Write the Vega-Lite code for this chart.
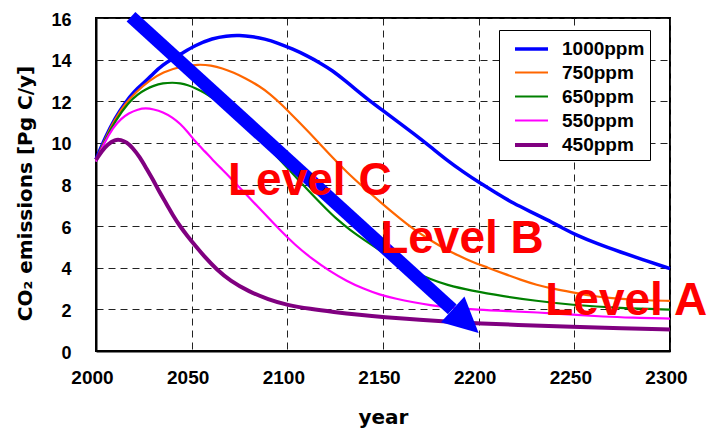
{
  "$schema": "https://vega.github.io/schema/vega-lite/v6.json",
  "width": 574,
  "height": 333,
  "autosize": "none",
  "padding": {"left": 96, "top": 18, "right": 43, "bottom": 77},
  "background": "white",
  "datasets": {
    "curves": [
      {"s": "1000ppm", "year": 2000, "v": 9.2}, {"s": "1000ppm", "year": 2005, "v": 10.3}, {"s": "1000ppm", "year": 2010, "v": 11.2}, {"s": "1000ppm", "year": 2015, "v": 11.9}, {"s": "1000ppm", "year": 2020, "v": 12.5}, {"s": "1000ppm", "year": 2026, "v": 12.95}, {"s": "1000ppm", "year": 2030, "v": 13.35}, {"s": "1000ppm", "year": 2035, "v": 13.75}, {"s": "1000ppm", "year": 2040, "v": 14.05}, {"s": "1000ppm", "year": 2044, "v": 14.25}, {"s": "1000ppm", "year": 2052, "v": 14.7}, {"s": "1000ppm", "year": 2061, "v": 15.03}, {"s": "1000ppm", "year": 2068, "v": 15.14}, {"s": "1000ppm", "year": 2075, "v": 15.17}, {"s": "1000ppm", "year": 2082, "v": 15.1}, {"s": "1000ppm", "year": 2088, "v": 15.0}, {"s": "1000ppm", "year": 2095, "v": 14.8}, {"s": "1000ppm", "year": 2103, "v": 14.5}, {"s": "1000ppm", "year": 2110, "v": 14.2}, {"s": "1000ppm", "year": 2117, "v": 13.85}, {"s": "1000ppm", "year": 2124, "v": 13.45}, {"s": "1000ppm", "year": 2130, "v": 13.0}, {"s": "1000ppm", "year": 2136, "v": 12.55}, {"s": "1000ppm", "year": 2142, "v": 12.1}, {"s": "1000ppm", "year": 2150, "v": 11.55}, {"s": "1000ppm", "year": 2158, "v": 11.0}, {"s": "1000ppm", "year": 2166, "v": 10.45}, {"s": "1000ppm", "year": 2175, "v": 9.8}, {"s": "1000ppm", "year": 2183, "v": 9.2}, {"s": "1000ppm", "year": 2192, "v": 8.6}, {"s": "1000ppm", "year": 2201, "v": 8.05}, {"s": "1000ppm", "year": 2210, "v": 7.55}, {"s": "1000ppm", "year": 2218, "v": 7.1}, {"s": "1000ppm", "year": 2227, "v": 6.7}, {"s": "1000ppm", "year": 2236, "v": 6.3}, {"s": "1000ppm", "year": 2244, "v": 5.9}, {"s": "1000ppm", "year": 2251, "v": 5.57}, {"s": "1000ppm", "year": 2262, "v": 5.15}, {"s": "1000ppm", "year": 2274, "v": 4.76}, {"s": "1000ppm", "year": 2287, "v": 4.35}, {"s": "1000ppm", "year": 2300, "v": 3.96},
      {"s": "750ppm", "year": 2000, "v": 9.15}, {"s": "750ppm", "year": 2005, "v": 10.25}, {"s": "750ppm", "year": 2010, "v": 11.15}, {"s": "750ppm", "year": 2015, "v": 11.85}, {"s": "750ppm", "year": 2021, "v": 12.45}, {"s": "750ppm", "year": 2028, "v": 13.0}, {"s": "750ppm", "year": 2035, "v": 13.4}, {"s": "750ppm", "year": 2044, "v": 13.67}, {"s": "750ppm", "year": 2054, "v": 13.78}, {"s": "750ppm", "year": 2060, "v": 13.72}, {"s": "750ppm", "year": 2066, "v": 13.59}, {"s": "750ppm", "year": 2072, "v": 13.38}, {"s": "750ppm", "year": 2078, "v": 13.11}, {"s": "750ppm", "year": 2085, "v": 12.75}, {"s": "750ppm", "year": 2091, "v": 12.35}, {"s": "750ppm", "year": 2097, "v": 11.85}, {"s": "750ppm", "year": 2105, "v": 11.1}, {"s": "750ppm", "year": 2114, "v": 10.25}, {"s": "750ppm", "year": 2122, "v": 9.45}, {"s": "750ppm", "year": 2131, "v": 8.6}, {"s": "750ppm", "year": 2140, "v": 7.85}, {"s": "750ppm", "year": 2148, "v": 7.2}, {"s": "750ppm", "year": 2159, "v": 6.35}, {"s": "750ppm", "year": 2166, "v": 5.85}, {"s": "750ppm", "year": 2175, "v": 5.3}, {"s": "750ppm", "year": 2183, "v": 4.88}, {"s": "750ppm", "year": 2189, "v": 4.6}, {"s": "750ppm", "year": 2196, "v": 4.3}, {"s": "750ppm", "year": 2205, "v": 4.0}, {"s": "750ppm", "year": 2213, "v": 3.72}, {"s": "750ppm", "year": 2222, "v": 3.42}, {"s": "750ppm", "year": 2230, "v": 3.18}, {"s": "750ppm", "year": 2240, "v": 2.97}, {"s": "750ppm", "year": 2248, "v": 2.83}, {"s": "750ppm", "year": 2258, "v": 2.66}, {"s": "750ppm", "year": 2269, "v": 2.53}, {"s": "750ppm", "year": 2285, "v": 2.44}, {"s": "750ppm", "year": 2300, "v": 2.41},
      {"s": "650ppm", "year": 2000, "v": 9.1}, {"s": "650ppm", "year": 2005, "v": 10.2}, {"s": "650ppm", "year": 2010, "v": 11.05}, {"s": "650ppm", "year": 2017, "v": 11.95}, {"s": "650ppm", "year": 2022, "v": 12.35}, {"s": "650ppm", "year": 2026, "v": 12.57}, {"s": "650ppm", "year": 2030, "v": 12.75}, {"s": "650ppm", "year": 2035, "v": 12.87}, {"s": "650ppm", "year": 2040, "v": 12.9}, {"s": "650ppm", "year": 2044, "v": 12.87}, {"s": "650ppm", "year": 2048, "v": 12.78}, {"s": "650ppm", "year": 2052, "v": 12.63}, {"s": "650ppm", "year": 2057, "v": 12.4}, {"s": "650ppm", "year": 2061, "v": 12.15}, {"s": "650ppm", "year": 2066, "v": 11.82}, {"s": "650ppm", "year": 2070, "v": 11.5}, {"s": "650ppm", "year": 2075, "v": 11.1}, {"s": "650ppm", "year": 2080, "v": 10.68}, {"s": "650ppm", "year": 2088, "v": 9.98}, {"s": "650ppm", "year": 2096, "v": 9.2}, {"s": "650ppm", "year": 2105, "v": 8.3}, {"s": "650ppm", "year": 2114, "v": 7.42}, {"s": "650ppm", "year": 2120, "v": 6.86}, {"s": "650ppm", "year": 2126, "v": 6.32}, {"s": "650ppm", "year": 2133, "v": 5.8}, {"s": "650ppm", "year": 2140, "v": 5.35}, {"s": "650ppm", "year": 2148, "v": 4.86}, {"s": "650ppm", "year": 2157, "v": 4.3}, {"s": "650ppm", "year": 2166, "v": 3.8}, {"s": "650ppm", "year": 2175, "v": 3.44}, {"s": "650ppm", "year": 2183, "v": 3.18}, {"s": "650ppm", "year": 2196, "v": 2.9}, {"s": "650ppm", "year": 2213, "v": 2.63}, {"s": "650ppm", "year": 2230, "v": 2.41}, {"s": "650ppm", "year": 2248, "v": 2.22}, {"s": "650ppm", "year": 2274, "v": 2.05}, {"s": "650ppm", "year": 2300, "v": 1.99},
      {"s": "550ppm", "year": 2000, "v": 9.1}, {"s": "550ppm", "year": 2004, "v": 9.95}, {"s": "550ppm", "year": 2009, "v": 10.75}, {"s": "550ppm", "year": 2013, "v": 11.15}, {"s": "550ppm", "year": 2017, "v": 11.42}, {"s": "550ppm", "year": 2022, "v": 11.62}, {"s": "550ppm", "year": 2026, "v": 11.67}, {"s": "550ppm", "year": 2030, "v": 11.62}, {"s": "550ppm", "year": 2035, "v": 11.48}, {"s": "550ppm", "year": 2040, "v": 11.22}, {"s": "550ppm", "year": 2044, "v": 10.92}, {"s": "550ppm", "year": 2048, "v": 10.52}, {"s": "550ppm", "year": 2052, "v": 10.05}, {"s": "550ppm", "year": 2057, "v": 9.58}, {"s": "550ppm", "year": 2061, "v": 9.18}, {"s": "550ppm", "year": 2066, "v": 8.72}, {"s": "550ppm", "year": 2070, "v": 8.35}, {"s": "550ppm", "year": 2078, "v": 7.57}, {"s": "550ppm", "year": 2087, "v": 6.7}, {"s": "550ppm", "year": 2096, "v": 5.82}, {"s": "550ppm", "year": 2104, "v": 5.1}, {"s": "550ppm", "year": 2113, "v": 4.42}, {"s": "550ppm", "year": 2122, "v": 3.85}, {"s": "550ppm", "year": 2131, "v": 3.36}, {"s": "550ppm", "year": 2140, "v": 2.98}, {"s": "550ppm", "year": 2148, "v": 2.71}, {"s": "550ppm", "year": 2157, "v": 2.5}, {"s": "550ppm", "year": 2166, "v": 2.34}, {"s": "550ppm", "year": 2175, "v": 2.2}, {"s": "550ppm", "year": 2183, "v": 2.1}, {"s": "550ppm", "year": 2200, "v": 1.98}, {"s": "550ppm", "year": 2215, "v": 1.92}, {"s": "550ppm", "year": 2230, "v": 1.86}, {"s": "550ppm", "year": 2250, "v": 1.74}, {"s": "550ppm", "year": 2265, "v": 1.65}, {"s": "550ppm", "year": 2280, "v": 1.6}, {"s": "550ppm", "year": 2300, "v": 1.56},
      {"s": "450ppm", "year": 2000, "v": 9.18}, {"s": "450ppm", "year": 2003, "v": 9.6}, {"s": "450ppm", "year": 2006, "v": 9.92}, {"s": "450ppm", "year": 2010, "v": 10.17}, {"s": "450ppm", "year": 2013, "v": 10.15}, {"s": "450ppm", "year": 2016, "v": 10.03}, {"s": "450ppm", "year": 2019, "v": 9.78}, {"s": "450ppm", "year": 2023, "v": 9.3}, {"s": "450ppm", "year": 2026, "v": 8.82}, {"s": "450ppm", "year": 2030, "v": 8.2}, {"s": "450ppm", "year": 2033, "v": 7.66}, {"s": "450ppm", "year": 2037, "v": 7.05}, {"s": "450ppm", "year": 2040, "v": 6.55}, {"s": "450ppm", "year": 2044, "v": 5.98}, {"s": "450ppm", "year": 2048, "v": 5.5}, {"s": "450ppm", "year": 2052, "v": 5.05}, {"s": "450ppm", "year": 2057, "v": 4.5}, {"s": "450ppm", "year": 2063, "v": 3.92}, {"s": "450ppm", "year": 2070, "v": 3.38}, {"s": "450ppm", "year": 2080, "v": 2.85}, {"s": "450ppm", "year": 2090, "v": 2.48}, {"s": "450ppm", "year": 2100, "v": 2.2}, {"s": "450ppm", "year": 2112, "v": 2.02}, {"s": "450ppm", "year": 2124, "v": 1.88}, {"s": "450ppm", "year": 2138, "v": 1.73}, {"s": "450ppm", "year": 2150, "v": 1.63}, {"s": "450ppm", "year": 2170, "v": 1.5}, {"s": "450ppm", "year": 2185, "v": 1.4}, {"s": "450ppm", "year": 2200, "v": 1.32}, {"s": "450ppm", "year": 2225, "v": 1.24}, {"s": "450ppm", "year": 2248, "v": 1.16}, {"s": "450ppm", "year": 2275, "v": 1.09}, {"s": "450ppm", "year": 2300, "v": 1.03}
    ],
    "arrow": [{"year": 2018.3, "v": 16.06, "year2": 2186.2, "v2": 2.0}],
    "head": [{"year": 2193.2, "v": 1.434}],
    "labels": [
      {"t": "Level C", "year": 2069.0, "v": 7.49},
      {"t": "Level B", "year": 2148.5, "v": 4.69},
      {"t": "Level A", "year": 2234.8, "v": 1.72}
    ]
  },
  "layer": [
    {
      "data": {"name": "curves"},
      "mark": {"type": "line", "interpolate": "basis"},
      "encoding": {
        "x": {"field": "year", "type": "quantitative", "scale": {"domain": [2000, 2300], "nice": false},
          "axis": {"values": [2000, 2050, 2100, 2150, 2200, 2250, 2300], "format": "d", "title": "year", "labelFontSize": 19, "labelPadding": 17, "labelOffset": -4, "labelFlush": false, "titleY": 72, "titleBaseline": "alphabetic"}},
        "y": {"field": "v", "type": "quantitative", "scale": {"domain": [0, 16], "nice": false},
          "axis": {"values": [0, 2, 4, 6, 8, 10, 12, 14, 16], "title": "CO₂ emissions [Pg C/y]", "labelFontSize": 18, "labelPadding": 25, "labelOffset": 2, "labelFlush": false, "titleX": -65, "titleY": 175, "titleBaseline": "alphabetic", "titleAngle": -90}},
        "color": {"field": "s", "type": "nominal",
          "scale": {"domain": ["1000ppm", "750ppm", "650ppm", "550ppm", "450ppm"], "range": ["#0000FF", "#FF6600", "#008000", "#FF00FF", "#800080"]},
          "legend": {"title": null}},
        "strokeWidth": {"field": "s", "type": "nominal",
          "scale": {"type": "ordinal", "domain": ["1000ppm", "750ppm", "650ppm", "550ppm", "450ppm"], "range": [3.5, 2.2, 2.2, 2.2, 4]},
          "legend": {"title": null}}
      }
    },
    {
      "data": {"name": "arrow"},
      "mark": {"type": "rule", "color": "#0000FF", "strokeWidth": 13, "strokeCap": "butt"},
      "encoding": {
        "x": {"field": "year", "type": "quantitative"},
        "y": {"field": "v", "type": "quantitative"},
        "x2": {"field": "year2"},
        "y2": {"field": "v2"}
      }
    },
    {
      "data": {"name": "head"},
      "mark": {"type": "point", "shape": "M-1,-1L1,0L-1,1Z", "filled": true, "color": "#0000FF", "opacity": 1, "size": 1225, "angle": 42.2, "strokeWidth": 0},
      "encoding": {
        "x": {"field": "year", "type": "quantitative"},
        "y": {"field": "v", "type": "quantitative"}
      }
    },
    {
      "data": {"name": "labels"},
      "mark": {"type": "text", "font": "Liberation Sans", "fontWeight": "bold", "fontSize": 46, "color": "#FF0000", "align": "left", "baseline": "alphabetic"},
      "encoding": {
        "x": {"field": "year", "type": "quantitative"},
        "y": {"field": "v", "type": "quantitative"},
        "text": {"field": "t"}
      }
    }
  ],
  "config": {
    "view": {"stroke": "black", "strokeWidth": 2},
    "axis": {
      "ticks": false,
      "domainColor": "black",
      "domainWidth": 2,
      "grid": true,
      "gridColor": "#222222",
      "gridDash": [7, 5],
      "gridWidth": 1,
      "gridOpacity": 1,
      "labelFont": "Liberation Sans",
      "labelFontWeight": "bold",
      "labelColor": "black",
      "titleFont": "DejaVu Sans",
      "titleFontWeight": "bold",
      "titleFontSize": 20,
      "titleColor": "black"
    },
    "legend": {
      "orient": "none",
      "legendX": 403,
      "legendY": 12,
      "fillColor": "white",
      "strokeColor": "black",
      "strokeWidth": 1,
      "padding": 5,
      "symbolOffset": 13.5,
      "symbolType": "M-1.375,0L1.375,0",
      "symbolSize": 576,
      "labelFont": "Liberation Sans",
      "labelFontWeight": "bold",
      "labelFontSize": 19,
      "labelColor": "black",
      "labelOffset": 16.5,
      "rowPadding": 0
    }
  }
}
